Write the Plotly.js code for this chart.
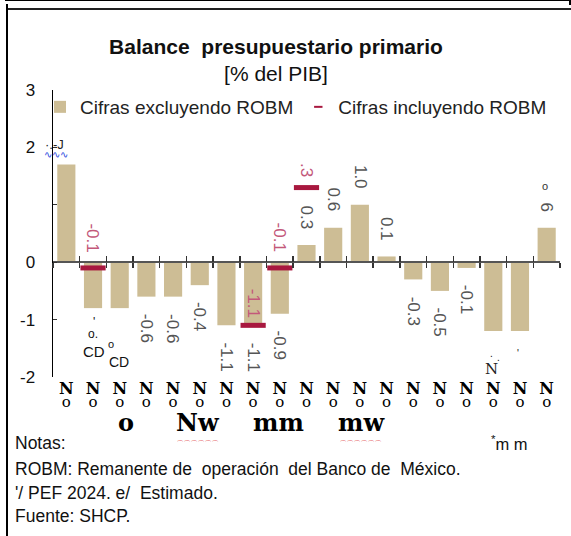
<!DOCTYPE html>
<html>
<head>
<meta charset="utf-8">
<script src="https://cdn.plot.ly/plotly-3.0.1.min.js"></script>
<style>
  html, body { margin: 0; padding: 0; background: #ffffff; }
  #wrap { position: relative; width: 571px; height: 536px; overflow: hidden; }
  #chart { position: absolute; left: 0; top: 0; width: 571px; height: 536px; }
  .fr { position: absolute; background: #000; z-index: 5; }
</style>
</head>
<body>
<div id="wrap">
  <div id="chart"></div>
  <div class="fr" style="left:5px; top:0px; width:566px; height:1px;"></div>
  <div class="fr" style="left:569px; top:0px; width:2px; height:5px;"></div>
  <div class="fr" style="left:7px; top:8px; width:564px; height:2px; background:#222;"></div>
  <div class="fr" style="left:6px; top:4px; width:2px; height:532px;"></div>
</div>
<script>
// ---- data ----
const catPos = [0, 1, 2, 3, 4, 5, 6, 7, 8, 9, 10, 11, 12, 13, 14, 15, 16, 17, 18];
const tickText = ["N", "N", "N", "N", "N", "N", "N", "N", "N", "N", "N", "N", "N", "N", "N", "N", "N", "N", "N"];
const tickSub = ["o", "o", "o", "o", "o", "o", "o", "o", "o", "o", "o", "o", "o", "o", "o", "o", "o", "o", "o"];
const excluyendo = [1.7, -0.8, -0.8, -0.6, -0.6, -0.4, -1.1, -1.1, -0.9, 0.3, 0.6, 1.0, 0.1, -0.3, -0.5, -0.1, -1.2, -1.2, 0.6];
const incluyendo = [null, -0.1, null, null, null, null, null, -1.1, -0.1, 1.3, null, null, null, null, null, null, null, null, null];
const barLabels = ["", "", "", "-0.6", "-0.6", "-0.4", "-1.1", "-1.1", "-0.9", "0.3", "0.6", "1.0", "0.1", "-0.3", "-0.5", "-0.1", "", "", "6"];
const robmLabels = ["", "-0.1", "", "", "", "", "", "-1.1", "-0.1", ".3", "", "", "", "", "", "", "", "", ""];
const boundaries = [-0.5, 0.5, 1.5, 2.5, 3.5, 4.5, 5.5, 6.5, 7.5, 8.5, 9.5, 10.5, 11.5, 12.5, 13.5, 14.5, 15.5, 16.5, 17.5, 18.5];
const yTickVals = [-2, -1, 0, 1, 2, 3];
const yTickText = ["-2", "-1", "0", "", "2", "3"];
const groupLabels = ["o", "Nw", "mm", "mw"];
const notes = ["Notas:", "ROBM: Remanente de  operación  del Banco de  México.", "'/ PEF 2024. e/  Estimado.", "Fuente: SHCP."];

// ---- styles ----
const TAN = "#cdbd95";
const RED = "#a8183f";
const RED_TXT = "#c3587a";
const GRAY_TXT = "#555555";
const SANS = "Liberation Sans, Arial, sans-serif";
const SERIF = "DejaVu Serif, Liberation Serif, serif";

// pixel helpers for paper positioning (plot area: x 53..560, y 90..377)
const L = 53, R = 11, T = 90, B = 159, W = 571, H = 536;
const pw = W - L - R, ph = H - T - B;
const px = v => (v - L) / pw;
const py = v => (H - B - v) / ph;

const traces = [
  {
    type: "bar", name: "Cifras excluyendo ROBM",
    x: catPos, y: excluyendo,
    marker: { color: TAN },
    hoverinfo: "skip"
  },
  {
    type: "scatter", mode: "markers", name: "Cifras incluyendo ROBM",
    x: catPos, y: incluyendo, showlegend: false,
    marker: { symbol: "line-ew", size: 18, color: RED, line: { color: RED, width: 5 } },
    hoverinfo: "skip"
  },
  {
    type: "scatter", mode: "markers", name: "Cifras incluyendo ROBM",
    x: [null], y: [null], showlegend: true,
    marker: { symbol: "line-ew", size: 6, color: RED, line: { color: RED, width: 2 } },
    hoverinfo: "skip"
  },
  { type: "scatter", mode: "markers", x: [0], y: [null], xaxis: "x2", showlegend: false, hoverinfo: "skip" },
  { type: "scatter", mode: "markers", x: [0], y: [null], xaxis: "x3", showlegend: false, hoverinfo: "skip" }
];

const annotations = [];
// value labels of the tan bars
barLabels.forEach((t, i) => {
  if (!t) return;
  const v = excluyendo[i];
  annotations.push({
    x: catPos[i], y: v, xref: "x", yref: "y", text: t, showarrow: false,
    xanchor: "center", textangle: 90, yanchor: v >= 0 ? "bottom" : "top", yshift: v >= 0 ? 14 : -15,
    font: { family: SANS, size: 17, color: GRAY_TXT }
  });
});
// ROBM labels
robmLabels.forEach((t, i) => {
  if (!t) return;
  annotations.push({
    x: catPos[i], y: incluyendo[i], xref: "x", yref: "y", text: t, showarrow: false,
    xanchor: "center", textangle: 90, yanchor: "bottom", yshift: i === 7 ? 6 : (i === 9 ? 9 : 14),
    font: { family: SANS, size: 17, color: RED_TXT }
  });
});
// garbled fragments of the original labels
const frag = (x, y, text, size, color, fam) => annotations.push({
  x: px(x), y: py(y), xref: "paper", yref: "paper", text: text, showarrow: false,
  xanchor: "center", yanchor: "middle",
  font: { family: fam || SANS, size: size, color: color || "#111" }
});
frag(94, 322, "'", 12);
frag(93, 334, "o.", 12);
frag(94, 351, "CD", 15);
frag(111, 344, "o", 11);
frag(119, 362, "CD", 14);
frag(491, 353, ".", 10);
frag(498, 357, ".", 10);
frag(491, 369, "N", 15, "#222", SERIF);
frag(518, 353, "'", 10);
frag(545, 186, "o", 11, "#333");
frag(54, 144, "·.-J", 13, "#222");
frag(56, 154, "∿∿∿", 10, "#2244dd");
// group labels below tick labels
const groupX = [2.25, 4.95, 7.95, 11.05];
groupLabels.forEach((t, i) => annotations.push({
  x: groupX[i], y: py(422), xref: "x", yref: "paper", text: "<b>" + t + "</b>", showarrow: false,
  xanchor: "center", yanchor: "middle",
  font: { family: SERIF, size: 24, color: "#000" }
}));
annotations.push({ x: 4.95, y: py(439), xref: "x", yref: "paper", xanchor: "center", yanchor: "middle", text: "︵︵︵︵︵︵", showarrow: false, font: { family: SANS, size: 7, color: "#dd3333" } });
annotations.push({ x: 11.05, y: py(439), xref: "x", yref: "paper", xanchor: "center", yanchor: "middle", text: "︵︵︵︵︵︵", showarrow: false, font: { family: SANS, size: 7, color: "#dd3333" } });
// notes
const noteY = [443, 469, 493, 516];
notes.forEach((t, i) => annotations.push({
  x: px(13), y: py(noteY[i]), xref: "paper", yref: "paper", xanchor: "left", yanchor: "middle", text: t, showarrow: false,
  font: { family: SANS, size: 17.5, color: "#111" }
}));
annotations.push({ x: px(489), y: py(443), xref: "paper", yref: "paper", xanchor: "left", yanchor: "middle", text: "<sup>*</sup>m m", showarrow: false, font: { family: SANS, size: 16.5, color: "#111" } });

const layout = {
  width: W, height: H,
  margin: { l: L, r: R, t: T, b: B, pad: 0 },
  paper_bgcolor: "rgba(0,0,0,0)", plot_bgcolor: "rgba(0,0,0,0)",
  bargap: 0.32,
  showlegend: true,
  legend: {
    orientation: "h", x: px(40), y: py(88), xanchor: "left", yanchor: "top",
    font: { family: SANS, size: 19, color: "#222" }, itemwidth: 30, bgcolor: "rgba(0,0,0,0)",
    tracegroupgap: 0
  },
  title: {
    text: "<b>Balance  presupuestario primario</b><br>[% del PIB]",
    x: 276 / W, xanchor: "center", y: 1 - 54 / H, yanchor: "top",
    font: { family: SANS, size: 21, color: "#111" }
  },
  xaxis: {
    range: [-0.5, 18.5], anchor: "free", position: py(262),
    showline: true, linecolor: "#555", linewidth: 2,
    tickmode: "array", tickvals: boundaries, ticks: "outside", ticklen: 5, tickwidth: 1.5, tickcolor: "#333",
    showticklabels: false, showgrid: false, zeroline: false, fixedrange: true
  },
  xaxis2: {
    range: [-0.5, 18.5], overlaying: "x", anchor: "free", position: py(262),
    showline: false, tickmode: "array", tickvals: boundaries, ticks: "inside", ticklen: 6, tickwidth: 1.5, tickcolor: "#333",
    showticklabels: false, showgrid: false, zeroline: false
  },
  xaxis3: {
    range: [-0.5, 18.5], overlaying: "x", anchor: "y", side: "bottom",
    showline: false, ticks: "", tickmode: "array", tickvals: catPos,
    ticktext: tickText.map((t, i) =>
      "<span style='font-size:16px'><b>" + t + "</b></span><br><span style='font-size:15px'>" + tickSub[i] + "</span>"),
    ticklabelstandoff: 5,
    tickfont: { family: SERIF, size: 10.5, color: "#000" },
    showgrid: false, zeroline: false, tickangle: 0
  },
  yaxis: {
    range: [-2, 3], showline: true, linecolor: "#000", linewidth: 1.5,
    tickmode: "array", tickvals: yTickVals, ticktext: yTickText,
    ticks: "inside", ticklen: 4, tickcolor: "#333",
    ticklabelstandoff: 13,
    tickfont: { family: SANS, size: 17, color: "#111" },
    showgrid: false, zeroline: false
  },
  annotations: annotations
};

Plotly.newPlot("chart", traces, layout, { staticPlot: true, displayModeBar: false });
</script>
</body>
</html>
